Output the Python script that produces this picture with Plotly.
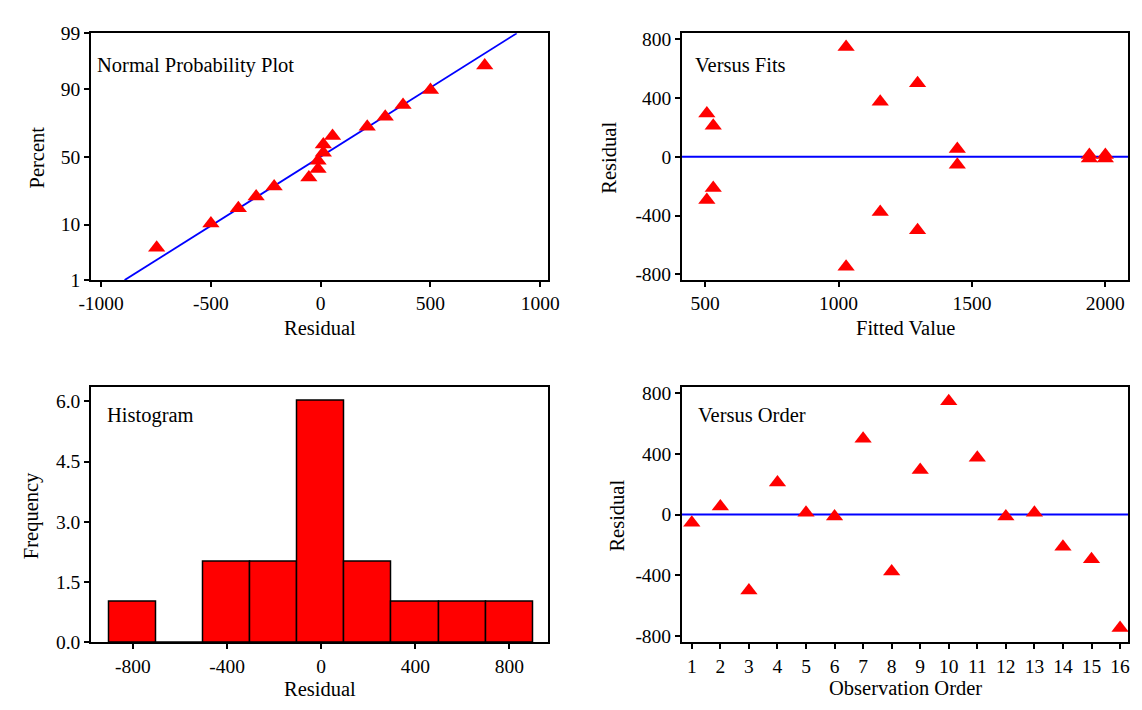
import plotly.graph_objects as go
from statistics import NormalDist

# ---------------- data ----------------
observation_order = list(range(1, 17))
residuals = [-54, 54, -500, 212, 12, -12, 500, -375, 294, 747, 375, -12, 12, -212, -294, -747]
fitted_values = [1445, 1445, 1296, 530, 1940, 1940, 1296, 1156, 506, 1028, 1156, 2000, 2000, 530, 506, 1028]

# percent positions of the sorted residuals on the normal probability plot
normal_percent = [4.3, 10.4, 16.5, 22.6, 28.7, 34.8, 40.9, 47.0, 53.0, 59.1, 65.2, 71.3, 77.4, 83.5, 89.6, 95.7]
# fitted normal line (two end points)
fit_line_residual = [-893, 893]
fit_line_percent = [1, 99]
percent_ticks = [1, 10, 50, 90, 99]

# histogram
hist_bin_centers = [-800, -600, -400, -200, 0, 200, 400, 600, 800]
hist_counts = [1, 0, 2, 2, 6, 2, 1, 1, 1]
hist_bin_width = 200

# tick values
npp_x_ticks = [-1000, -500, 0, 500, 1000]
fits_x_ticks = [500, 1000, 1500, 2000]
resid_ticks = [-800, -400, 0, 400, 800]
freq_ticks = [0.0, 1.5, 3.0, 4.5, 6.0]

# ---------------- helpers ----------------
W, H = 1142, 710
FONT = "Liberation Serif"
TICK_SIZE = 19.5
TEXT_SIZE = 20.5
nd = NormalDist()


def z(p):
    return nd.inv_cdf(p / 100.0)


def dom_x(a, b):
    return [a / W, b / W]


def dom_y(top, bottom):
    return [1 - bottom / H, 1 - top / H]


RED = "#FF0000"
BLUE = "#0000FF"
marker = dict(symbol="triangle-up", size=15, color=RED, line=dict(width=0))

fig = go.Figure()

# Normal probability plot
fig.add_trace(go.Scatter(x=fit_line_residual, y=[z(p) for p in fit_line_percent], mode="lines",
                         line=dict(color=BLUE, width=1.8), xaxis="x", yaxis="y", showlegend=False))
fig.add_trace(go.Scatter(x=sorted(residuals), y=[z(p) for p in normal_percent], mode="markers",
                         marker=marker, xaxis="x", yaxis="y", showlegend=False))

# Versus fits
fig.add_trace(go.Scatter(x=fitted_values, y=residuals, mode="markers", marker=marker,
                         xaxis="x2", yaxis="y2", showlegend=False))

# Histogram
fig.add_trace(go.Bar(x=hist_bin_centers, y=hist_counts, width=hist_bin_width,
                     marker=dict(color=RED, line=dict(color="black", width=1.5)),
                     xaxis="x3", yaxis="y3", showlegend=False))

# Versus order
fig.add_trace(go.Scatter(x=observation_order, y=residuals, mode="markers", marker=marker,
                         xaxis="x4", yaxis="y4", showlegend=False))

# zero reference lines
for xa, ya in (("x2", "y2"), ("x4", "y4")):
    fig.add_shape(type="line", xref=f"{xa} domain", yref=ya, x0=0, x1=1, y0=0, y1=0,
                  line=dict(color=BLUE, width=2), layer="below")

axis_style = dict(showline=True, linecolor="black", linewidth=2, mirror=True,
                  ticks="outside", ticklen=5, tickwidth=1.5, tickcolor="black",
                  showgrid=False, zeroline=False,
                  tickfont=dict(family=FONT, size=TICK_SIZE, color="black"))


def labels(vals, fmt="{:g}"):
    return [fmt.format(v) for v in vals]


LX = dom_x(80, 546.7)
RX = dom_x(684, 1140)
TY = dom_y(24, 278.3)
BY = dom_y(388.3, 651.7)

fig.update_layout(
    width=W, height=H,
    margin=dict(l=0, r=0, t=0, b=0),
    paper_bgcolor="white", plot_bgcolor="white",
    font=dict(family=FONT, size=TEXT_SIZE, color="black"),
    bargap=0,
    xaxis=dict(domain=LX, anchor="y", range=[-1045, 1034],
               tickvals=npp_x_ticks, ticktext=labels(npp_x_ticks), **axis_style),
    yaxis=dict(domain=TY, anchor="x", range=[z(1), z(99)],
               tickvals=[z(p) for p in percent_ticks], ticktext=labels(percent_ticks),
               **axis_style),
    xaxis2=dict(domain=RX, anchor="y2", range=[413, 2085],
                tickvals=fits_x_ticks, ticktext=labels(fits_x_ticks), **axis_style),
    yaxis2=dict(domain=TY, anchor="x2", range=[-838, 840],
                tickvals=resid_ticks, ticktext=labels(resid_ticks), **axis_style),
    xaxis3=dict(domain=LX, anchor="y3", range=[-977, 963],
                tickvals=resid_ticks, ticktext=labels(resid_ticks), **axis_style),
    yaxis3=dict(domain=BY, anchor="x3", range=[0, 6.36],
                tickvals=freq_ticks, ticktext=labels(freq_ticks, "{:.1f}"), **axis_style),
    xaxis4=dict(domain=RX, anchor="y4", range=[0.657, 16.28],
                tickvals=observation_order, ticktext=labels(observation_order), **axis_style),
    yaxis4=dict(domain=BY, anchor="x4", range=[-843, 843],
                tickvals=resid_ticks, ticktext=labels(resid_ticks), **axis_style),
)


def ann(text, x, y, xanchor="center", angle=0):
    fig.add_annotation(text=text, x=x / W, y=1 - y / H, xref="paper", yref="paper",
                       xanchor=xanchor, yanchor="middle", textangle=angle, showarrow=False,
                       borderpad=0, font=dict(family=FONT, size=TEXT_SIZE, color="black"))


# panel titles inside the plots
ann("Normal Probability Plot", 85, 57, xanchor="left")
ann("Versus Fits", 696.5, 57, xanchor="left")
ann("Histogram", 95, 418, xanchor="left")
ann("Versus Order", 699, 417, xanchor="left")

# axis titles
ann("Residual", 314, 328)
ann("Percent", 24.5, 152, angle=-90)
ann("Fitted Value", 912, 328)
ann("Residual", 609, 152.5, angle=-90)
ann("Residual", 314, 700)
ann("Frequency", 19, 521, angle=-90)
ann("Observation Order", 912, 698.5)
ann("Residual", 617.5, 521, angle=-90)

fig.write_html("out.html")
